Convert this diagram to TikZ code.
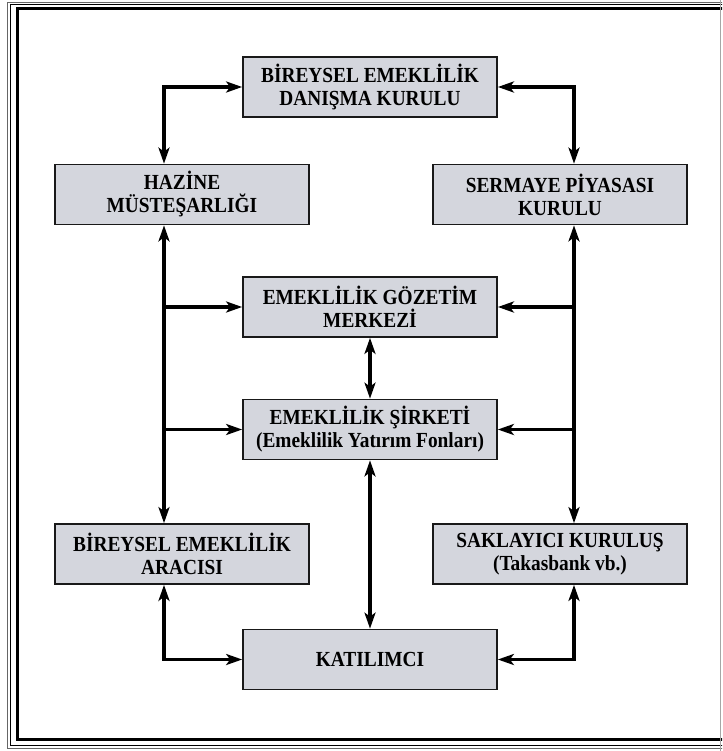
\documentclass[tikz,border=0pt]{standalone}
\usepackage{fontspec}
\setmainfont{Liberation Serif}[FakeStretch=0.9]
\usepackage{xcolor}
\usepackage{tikz}
\usetikzlibrary{calc,arrows.meta}

\definecolor{kutugri}{RGB}{212,214,221}

\begin{document}
\begin{tikzpicture}[x=1pt,y=-1pt,
		kutu/.style={draw=black!90,line width=1.7pt,fill=kutugri,minimum width=254pt,minimum height=60pt,inner sep=0pt,align=center,font=\fontsize{21.5}{23}\selectfont\bfseries},
		tek/.style={line width=3.2pt,-{Stealth[length=16pt,width=11pt,inset=4pt]}},
		cift/.style={line width=3.2pt,{Stealth[length=16pt,width=11pt,inset=4pt]}-{Stealth[length=16pt,width=11pt,inset=4pt]}}]
		\useasboundingbox (0,0) rectangle (722,751);
		\clip (0,0) rectangle (722,751);
		% Draw frame
		\draw[line width=0.7pt,black!60] (7,2) rectangle (760,748.5);
		\draw[line width=0.9pt] (10.5,4.5) rectangle (760,745);
		\draw[line width=3pt] (17,8.5) rectangle (760,739.5);
		\draw[line width=0.7pt,black!35] (720.5,0) -- (720.5,751);
		% Draw boxes
		\node[kutu] (danisma) at (370,87) {B\.IREYSEL EMEKL\.IL\.IK\\DANIŞMA KURULU};
		\node[kutu] (hazine) at (182,194.5) {HAZ\.INE\\MÜSTEŞARLIĞI};
		\node[kutu] (sermaye) at (560,194.5) {SERMAYE P\.IYASASI\\KURULU};
		\node[kutu] (gozetim) at (370,307) {EMEKL\.IL\.IK GÖZET\.IM\\MERKEZ\.I};
		\node[kutu] (sirket) at (370,429.5) {EMEKL\.IL\.IK Ş\.IRKET\.I\\(Emeklilik Yatırım Fonları)};
		\node[kutu] (araci) at (182,554) {B\.IREYSEL EMEKL\.IL\.IK\\ARACISI};
		\node[kutu] (saklayici) at (560,554) {SAKLAYICI KURULUŞ\\(Takasbank vb.)};
		\node[kutu] (katilimci) at (370,659.5) {KATILIMCI};
		\coordinate (sol) at (164,0);
		\coordinate (sag) at (574,0);
		% Draw arrows
		\draw[cift] (hazine.north -| sol) |- (danisma.west);
		\draw[cift] (sermaye.north -| sag) |- (danisma.east);
		\draw[cift] (hazine.south -| sol) -- (araci.north -| sol);
		\draw[cift] (sermaye.south -| sag) -- (saklayici.north -| sag);
		\draw[tek] (gozetim.west -| sol) -- (gozetim.west);
		\draw[tek] (sirket.west -| sol) -- (sirket.west);
		\draw[tek] (gozetim.east -| sag) -- (gozetim.east);
		\draw[tek] (sirket.east -| sag) -- (sirket.east);
		\draw[cift] (gozetim) -- (sirket);
		\draw[cift] (sirket) -- (katilimci);
		\draw[cift] (araci.south -| sol) |- (katilimci.west);
		\draw[cift] (saklayici.south -| sag) |- (katilimci.east);
	\end{tikzpicture}
\end{document}
